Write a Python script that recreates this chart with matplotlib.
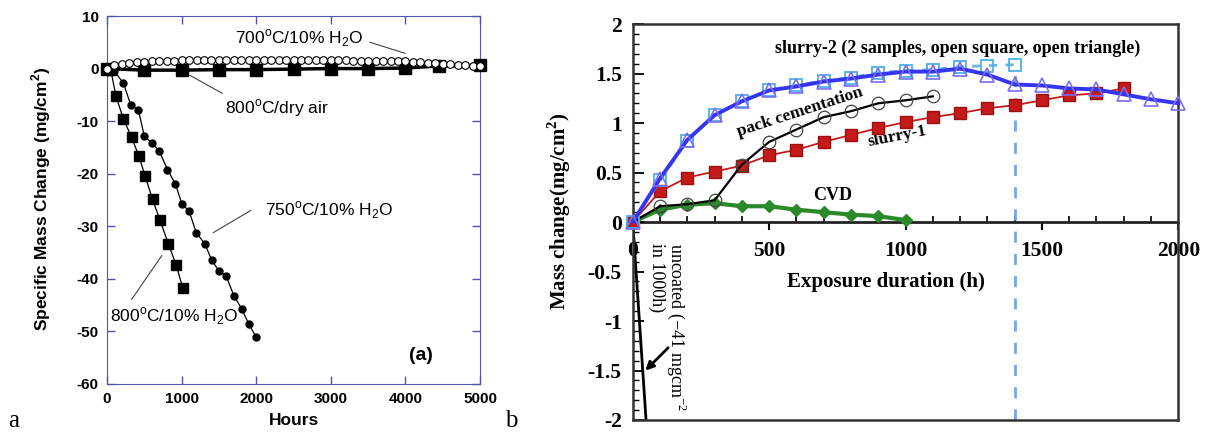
#Two panel mass change plot (a: hours, b: exposure duration)
import matplotlib
matplotlib.use('Agg')
import matplotlib.pyplot as plt
from matplotlib.ticker import MultipleLocator

plt.rcParams['axes.unicode_minus'] = False

# ---- panel a data ----
h700 = list(range(0, 5001, 100))
v700 = [0, 0.6, 0.9, 1.1, 1.2, 1.3, 1.4, 1.5, 1.5, 1.5, 1.6,
        1.6, 1.6, 1.6, 1.6, 1.6, 1.6, 1.6, 1.6, 1.6, 1.6,
        1.6, 1.6, 1.6, 1.6, 1.6, 1.6, 1.6, 1.6, 1.6, 1.6,
        1.6, 1.6, 1.5, 1.5, 1.5, 1.5, 1.5, 1.4, 1.4, 1.4,
        1.3, 1.2, 1.1, 1.0, 0.9, 0.8, 0.7, 0.6, 0.5, 0.4]
h_dry = [0, 500, 1000, 1500, 2000, 2500, 3000, 3500, 4000, 4450, 5000]
v_dry = [0, -0.3, -0.3, -0.2, -0.2, -0.1, 0.0, 0.0, 0.1, 0.5, 0.6]
h750 = [0, 100, 220, 320, 420, 500, 600, 700, 810, 915, 1005, 1100,
        1195, 1310, 1405, 1500, 1595, 1700, 1805, 1900, 1995]
v750 = [0, -0.5, -2.8, -7.0, -7.8, -12.9, -14.1, -15.7, -19.2, -21.9, -25.8, -27.1,
        -31.2, -33.3, -36.5, -38.5, -39.4, -43.2, -45.7, -48.6, -51.0]
h800 = [0, 50, 120, 220, 330, 425, 510, 610, 710, 820, 925, 1015]
v800 = [0, -0.2, -5.3, -9.6, -13.1, -16.6, -20.4, -24.9, -28.8, -33.3, -37.3, -41.7]

# ---- panel b data ----
t = [0, 100, 200, 300, 400, 500, 600, 700, 800, 900, 1000, 1100, 1200, 1300,
     1400, 1500, 1600, 1700, 1800, 1900, 2000]
slurry2_tri = [0, 0.44, 0.83, 1.08, 1.22, 1.33, 1.37, 1.42, 1.45, 1.49, 1.52, 1.52, 1.55, 1.49,
               1.39, 1.38, 1.35, 1.34, 1.29, 1.24, 1.20]
t_sq = t[:15]
slurry2_sq = [0, 0.42, 0.82, 1.08, 1.22, 1.33, 1.38, 1.43, 1.46, 1.51, 1.53, 1.54, 1.57, 1.58, 1.59]
t_s1 = t[:19]
slurry1 = [0, 0.31, 0.45, 0.51, 0.57, 0.675, 0.73, 0.81, 0.88, 0.95, 1.01, 1.06, 1.10, 1.15,
           1.18, 1.23, 1.28, 1.30, 1.35]
t_pc = t[:12]
pack = [0, 0.16, 0.18, 0.22, 0.58, 0.81, 0.935, 1.06, 1.12, 1.20, 1.23, 1.27]
t_cvd = t[:11]
cvd = [0, 0.125, 0.175, 0.19, 0.16, 0.16, 0.125, 0.10, 0.075, 0.06, 0.02]
t_unc = [0, 1000]
uncoated = [0, -41]
t_cut = 1400

axis_blue = '#5252b0'
sans = 'Liberation Sans'
serif = 'Liberation Serif'

fig = plt.figure(figsize=(12.08, 4.36), dpi=100)

# ================= panel a =================
ax1 = fig.add_axes([0.0886, 0.1193, 0.3088, 0.844])
ax1.plot(h_dry, v_dry, color='black', lw=2.5, marker='s', ms=8, zorder=3, clip_on=False)
ax1.plot(h700, v700, color='black', lw=0.8, marker='o', ms=5.5, mfc='white', mec='black',
         mew=0.8, zorder=4, clip_on=False)
ax1.plot(h750, v750, color='black', lw=0.9, marker='o', ms=5, zorder=3, clip_on=False)
ax1.plot(h800, v800, color='black', lw=0.9, marker='s', ms=6.5, zorder=3, clip_on=False)

ax1.set_xlim(0, 5000)
ax1.set_ylim(-60, 10)
ax1.set_xticks(range(0, 5001, 1000))
ax1.set_yticks(range(-60, 11, 10))
ax1.tick_params(direction='in', top=True, right=True, length=6, color=axis_blue, width=1,
                labelsize=11, pad=6)
for lab in ax1.get_xticklabels() + ax1.get_yticklabels():
    lab.set_fontweight('bold')
    lab.set_family(sans)
for s in ax1.spines.values():
    s.set_color(axis_blue)
ax1.set_xlabel('Hours', fontsize=12.5, fontweight='bold', family=sans, labelpad=5)
ax1.set_ylabel('Specific Mass Change (mg/cm$^{\\mathregular{2}}$)', fontsize=12.5,
               fontweight='bold', family=sans)
ax1.yaxis.set_label_coords(-0.145, 0.503)

H2O = 'H$_{\\mathregular{2}}$O'
deg = '$^{\\mathregular{o}}$'
ax1.text(1716, 5.8, '700' + deg + 'C/10% ' + H2O, fontsize=12.5, family=sans, va='center')
ax1.plot([3525, 3995], [5.0, 2.9], color='#444444', lw=0.8)
ax1.text(1582, -7.6, '800' + deg + 'C/dry air', fontsize=12.5, family=sans, va='center')
ax1.plot([1113, 1542], [-1.3, -4.7], color='#444444', lw=0.8)
ax1.text(2118, -26.9, '750' + deg + 'C/10% ' + H2O, fontsize=12.5, family=sans, va='center')
ax1.plot([1425, 1926], [-31.2, -27.0], color='#444444', lw=0.8)
ax1.text(40, -47.1, '800' + deg + 'C/10% ' + H2O, fontsize=12.5, family=sans, va='center')
ax1.plot([331, 733], [-43.9, -35.6], color='#444444', lw=0.8)
ax1.text(4209, -54.5, '(a)', fontsize=14, fontweight='bold', family=sans,
         ha='center', va='center')

# ================= panel b =================
ax2 = fig.add_axes([0.5238, 0.0367, 0.4516, 0.908])
ax2.plot(t_unc, uncoated, color='black', lw=2, zorder=2)
ax2.plot(t_cvd, cvd, color='#2a8a2a', lw=3, marker='D', ms=6, mfc='#2a8a2a', mec='#2a8a2a',
         zorder=3, clip_on=False)
ax2.plot(t_s1, slurry1, color='#c41a1a', lw=1.3, marker='s', ms=9, mfc='#c41a1a', mec='#9a1010',
         zorder=4, clip_on=False)
ax2.plot(t_pc, pack, color='black', lw=1.6, marker='o', ms=9, mfc='none', mec='#444444',
         mew=0.9, zorder=5, clip_on=False)
ax2.plot(t_sq, slurry2_sq, color='#6fb2ea', lw=2, ls=(0, (3, 3)), marker='s', ms=9, mfc='none',
         mec='#4fb0ea', mew=1.3, zorder=5, clip_on=False)
ax2.plot(t, slurry2_tri, color='#3535f0', lw=2.8, marker='^', ms=10, mfc='none',
         mec='#7a6ef0', mew=1.2, zorder=6, clip_on=False)
ax2.vlines(t_cut, -2.0, slurry2_sq[-1], color='#70a8ec', lw=2, ls=(0, (4, 4)), zorder=2)

ax2.set_xlim(0, 2000)
ax2.set_ylim(-2, 2)
ax2.set_xticks([])
ax2.set_yticks([-2, -1.5, -1, -0.5, 0, 0.5, 1, 1.5, 2])
ax2.set_yticklabels(['-2', '-1.5', '-1', '-0.5', '0', '0.5', '1', '1.5', '2'])
ax2.yaxis.set_minor_locator(MultipleLocator(0.1))
ax2.tick_params(axis='y', which='major', direction='in', length=8, width=1.3, labelsize=15.5, pad=8)
ax2.tick_params(axis='y', which='minor', direction='in', length=4.5, width=1)
for lab in ax2.get_yticklabels():
    lab.set_fontweight('bold')
    lab.set_family(serif)
for s in ax2.spines.values():
    s.set_color('#333333')
    s.set_linewidth(1.8)

# x axis drawn through y = 0 (middle of the box)
sec = ax2.secondary_xaxis(0.5)
sec.set_alignment('bottom')
sec.set_xticks([0, 500, 1000, 1500, 2000])
sec.xaxis.set_minor_locator(MultipleLocator(100))
sec.tick_params(which='major', direction='out', length=6, width=1.5, labelsize=15.5, pad=8)
sec.tick_params(which='minor', direction='in', length=4, width=1.2)
sec.spines['bottom'].set_linewidth(2)
sec.spines['bottom'].set_color('#222222')
for lab in sec.get_xticklabels():
    lab.set_fontweight('bold')
    lab.set_family(serif)

ax2.text(0.464, 0.348, 'Exposure duration (h)', transform=ax2.transAxes, fontsize=15,
         fontweight='bold', family=serif, ha='center', va='center')
ax2.set_ylabel('Mass change(mg/cm$^{\\mathregular{2}}$)', fontsize=15, fontweight='bold',
               family=serif)
ax2.yaxis.set_label_coords(-0.11, 0.528)

ax2.text(522, 1.76, 'slurry-2 (2 samples, open square, open triangle)', fontsize=13,
         fontweight='bold', family=serif, va='center')
ax2.text(613, 1.11, 'pack cementation', fontsize=12.5, fontweight='bold', family=serif,
         rotation=18, ha='center', va='center')
ax2.text(969, 0.86, 'slurry-1', fontsize=12.5, fontweight='bold', family=serif,
         rotation=11, ha='center', va='center')
ax2.text(731, 0.27, 'CVD', fontsize=13, fontweight='bold', family=serif,
         ha='center', va='center')
ax2.text(129, -0.215, 'uncoated (\u221241 mgcm$^{\\mathregular{-2}}$\nin 1000h)', fontsize=13,
         family=serif, rotation=270, ha='center', va='top', multialignment='left',
         linespacing=1.0)
ax2.annotate('', xy=(39, -1.52), xytext=(137, -1.25),
             arrowprops=dict(arrowstyle='-|>', color='black', lw=2, mutation_scale=12))

fig.text(0.0066, 0.0206, 'a', fontsize=18, family=serif, va='baseline')
fig.text(0.418, 0.0206, 'b', fontsize=18, family=serif, va='baseline')

plt.savefig('out.png', dpi=100)
